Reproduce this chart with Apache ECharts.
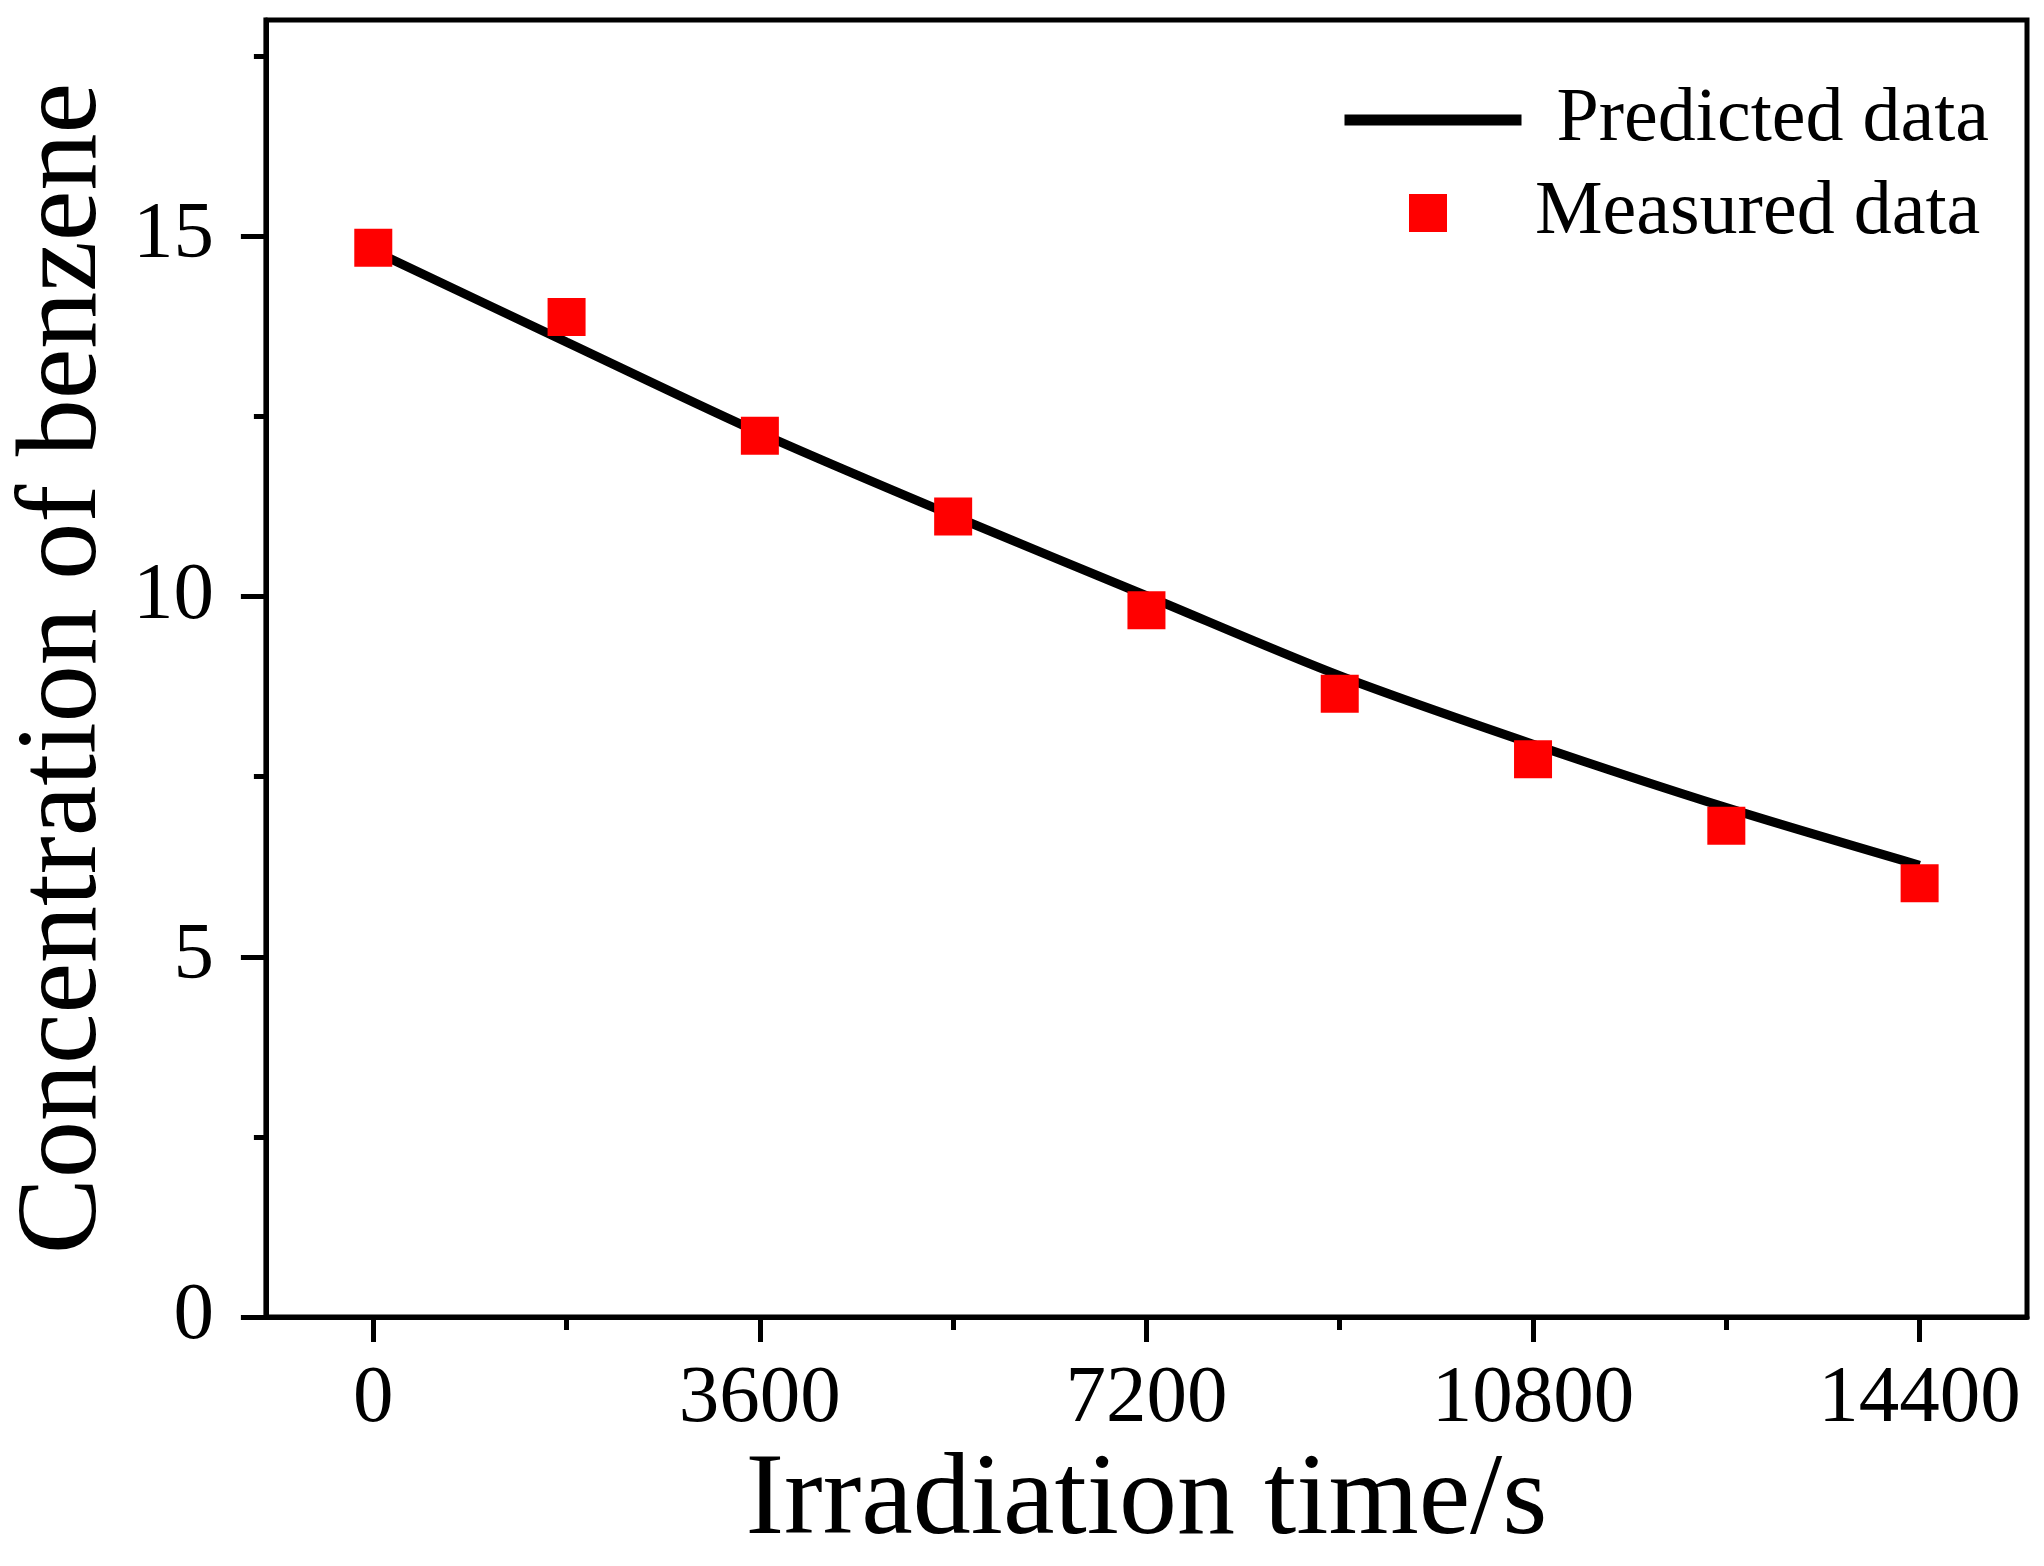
<!DOCTYPE html>
<html>
	<head>
		<meta charset="UTF-8">
		<script src="https://cdn.jsdelivr.net/npm/echarts@6/dist/echarts.min.js"></script>
		<style>
			html, body { margin: 0; padding: 0; background: #fff; }
			#chart { width: 2044px; height: 1566px; }
		</style>
	</head>
	<body>
		<div id="chart"></div>
		<script type="text/javascript">
			// 数据
			var timeSec = [0, 1800, 3600, 5400, 7200, 9000, 10800, 12600, 14400];
			var measured = [14.84, 13.88, 12.23, 11.11, 9.81, 8.65, 7.74, 6.82, 6.02];
			var predicted = [14.80, 13.53, 12.27, 11.12, 10.01, 8.90, 7.95, 7.07, 6.27];
			var xMajor = [0, 3600, 7200, 10800, 14400];
			var xMinor = [1800, 5400, 9000, 12600];
			var yMajor = [0, 5, 10, 15];
			var yMinor = [2.5, 7.5, 12.5, 17.5];

			var FONT = 'Liberation Serif';
			var lineW = 5;

			function pairs(xs, ys) {
				var out = [];
				for(var i = 0; i < xs.length; i++) out.push([xs[i], ys[i]]);
				return out;
			}
			// 不要千位分隔符
			function plain(v) {
				return String(v);
			}

			var myChart = echarts.init(document.getElementById('chart'));

			var option = {
				backgroundColor: '#fff',
				animation: false,
				grid: {
					left: 255, right: 17, top: 20, bottom: 236,
					show: true, borderColor: '#000', borderWidth: lineW
				},
				legend: [{
					data: ['Predicted data'],
					left: 1334, top: 77,
					itemWidth: 177, itemHeight: 24,
					lineStyle: { width: 11 },
					itemStyle: { opacity: 0 },
					textStyle: { fontFamily: FONT, fontSize: 76, color: '#000', padding: [0, 0, 0, 30] }
				}, {
					data: ['Measured data'],
					icon: 'rect',
					left: 1404, top: 170,
					itemWidth: 38, itemHeight: 38,
					itemStyle: { opacity: 1 },
					textStyle: { fontFamily: FONT, fontSize: 76, color: '#000', padding: [0, 0, 0, 83] }
				}],
				xAxis: [{
					type: 'value', min: -1000, max: 15400, position: 'bottom',
					name: 'Irradiation time/s', nameLocation: 'middle', nameGap: 119,
					nameTextStyle: { fontFamily: FONT, fontSize: 116, color: '#000' },
					axisLine: { onZero: false, lineStyle: { color: '#000', width: lineW } },
					axisTick: { customValues: xMajor, length: 25, lineStyle: { color: '#000', width: 5 } },
					axisLabel: { customValues: xMajor, formatter: plain, margin: 42, fontFamily: FONT, fontSize: 81, color: '#000' },
					splitLine: { show: false }
				}, {
					// 次刻度
					type: 'value', min: -1000, max: 15400, position: 'bottom', offset: 0,
					axisLine: { show: false, onZero: false },
					axisTick: { customValues: xMinor, length: 13, lineStyle: { color: '#000', width: 5 } },
					axisLabel: { show: false },
					splitLine: { show: false }
				}],
				yAxis: [{
					type: 'value', min: 0, max: 18, position: 'left',
					name: 'Concentration of benzene', nameLocation: 'middle', nameGap: 134,
					nameTextStyle: { fontFamily: FONT, fontSize: 114, color: '#000' },
					axisLine: { onZero: false, lineStyle: { color: '#000', width: lineW } },
					axisTick: { customValues: yMajor, length: 25, lineStyle: { color: '#000', width: 5 } },
					axisLabel: { customValues: yMajor, formatter: plain, margin: 52, fontFamily: FONT, fontSize: 81, color: '#000' },
					splitLine: { show: false }
				}, {
					type: 'value', min: 0, max: 18, position: 'left', offset: 0,
					axisLine: { show: false, onZero: false },
					axisTick: { customValues: yMinor, length: 12, lineStyle: { color: '#000', width: 5 } },
					axisLabel: { show: false },
					splitLine: { show: false }
				}],
				series: [{
					name: 'Predicted data',
					type: 'line',
					data: pairs(timeSec, predicted),
					symbol: 'none',
					smooth: 0.3,
					color: '#000',
					lineStyle: { color: '#000', width: 9 },
					z: 2
				}, {
					name: 'Measured data',
					type: 'scatter',
					data: pairs(timeSec, measured),
					symbol: 'rect',
					symbolSize: 38,
					itemStyle: { color: '#ff0000', opacity: 1 },
					z: 3
				}]
			};
			myChart.setOption(option);
		</script>
	</body>
</html>
